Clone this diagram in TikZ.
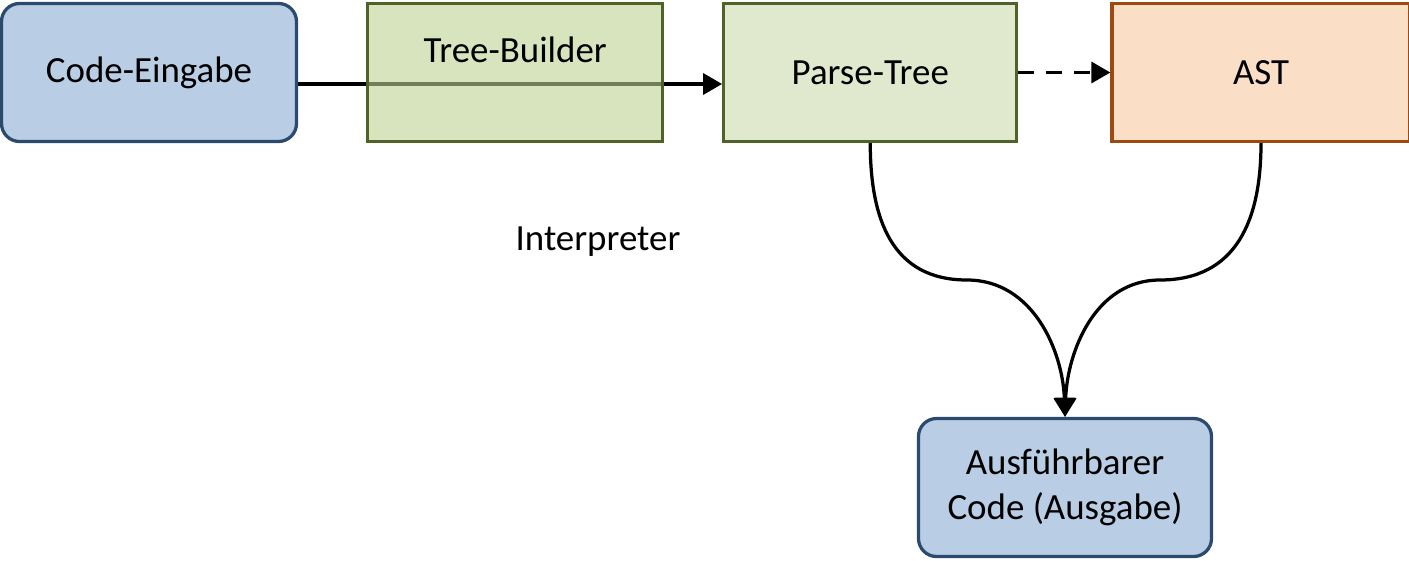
\documentclass[tikz,border=0pt]{standalone}
\usepackage{fontspec}
\setmainfont{Carlito}
\usepackage{xcolor}
\usetikzlibrary{arrows.meta, positioning, calc, shapes, fit, backgrounds}

\definecolor{inblue}{HTML}{B9CDE5}
\definecolor{inborder}{HTML}{2C4A6E}
\definecolor{buildfill}{HTML}{BED293}
\definecolor{treefill}{HTML}{E0E9CD}
\definecolor{treeborder}{HTML}{4F6228}
\definecolor{astfill}{HTML}{FBDEC6}
\definecolor{astborder}{HTML}{9C4A10}

\begin{document}
\begin{tikzpicture}[
    node distance=1.2cm and 1.2cm,
    input/.style={rectangle, draw=inborder, line width=0.065cm, minimum width=5.9cm, minimum height=2.76cm, align=center, fill=inblue, rounded corners=0.36cm, font=\fontsize{21}{25.5}\selectfont},
    builder/.style={rectangle, draw=treeborder, line width=0.065cm, minimum width=5.9cm, minimum height=2.76cm, align=center, fill=buildfill, fill opacity=0.6, text opacity=1, text depth=0.9cm, font=\fontsize{21}{25.5}\selectfont},
    tree/.style={rectangle, draw=treeborder, line width=0.065cm, minimum width=5.86cm, minimum height=2.76cm, align=center, fill=treefill, font=\fontsize{21}{25.5}\selectfont},
    ast/.style={rectangle, draw=astborder, line width=0.065cm, minimum width=5.96cm, minimum height=2.76cm, align=center, fill=astfill, font=\fontsize{21}{25.5}\selectfont},
    output/.style={input, minimum width=5.86cm},
    arrow/.style={-{Triangle[length=0.38cm, width=0.42cm]}, line width=0.065cm, color=black},
    dasharrow/.style={arrow, dash pattern=on 0.32cm off 0.24cm},
    plain_label/.style={font=\fontsize{21}{25.5}\selectfont, align=center}
]
    \useasboundingbox (0,0) rectangle (28.18,-11.2);

    % ============================================================
    % TOP ROW
    % ============================================================
    \node[input] (code) at (2.98,-1.45) {Code-Eingabe};
    \node[tree, right=8.48cm of code.east, anchor=west] (parse) {Parse-Tree};
    \node[builder, right=1.36cm of code] (builder) {Tree-Builder};
    \node[ast, right=1.84cm of parse] (ast) {AST};

    % Interpreter text
    \node[plain_label] (interp) at (11.96,-4.84) {Interpreter};

    % ============================================================
    % OUTPUT
    % ============================================================
    \node[output] (out) at (21.3,-9.75) {Ausführbarer\\Code (Ausgabe)};

    % Connections
    \begin{scope}[on background layer]
        \draw[arrow] ([yshift=-0.23cm]code.east) -- ([yshift=-0.23cm]parse.west);
    \end{scope}
    \draw[dasharrow] (parse) -- (ast);

    \coordinate (leftbend) at (19.34,-5.6);
    \coordinate (rightbend) at (23.2,-5.6);
    \draw[arrow] (parse.south) to[out=-90, in=180, looseness=1.15] (leftbend) to[out=0, in=92] (out.north);
    \draw[arrow] (ast.south) to[out=-90, in=0, looseness=1.15] (rightbend) to[out=180, in=88] (out.north);

\end{tikzpicture}
\end{document}
